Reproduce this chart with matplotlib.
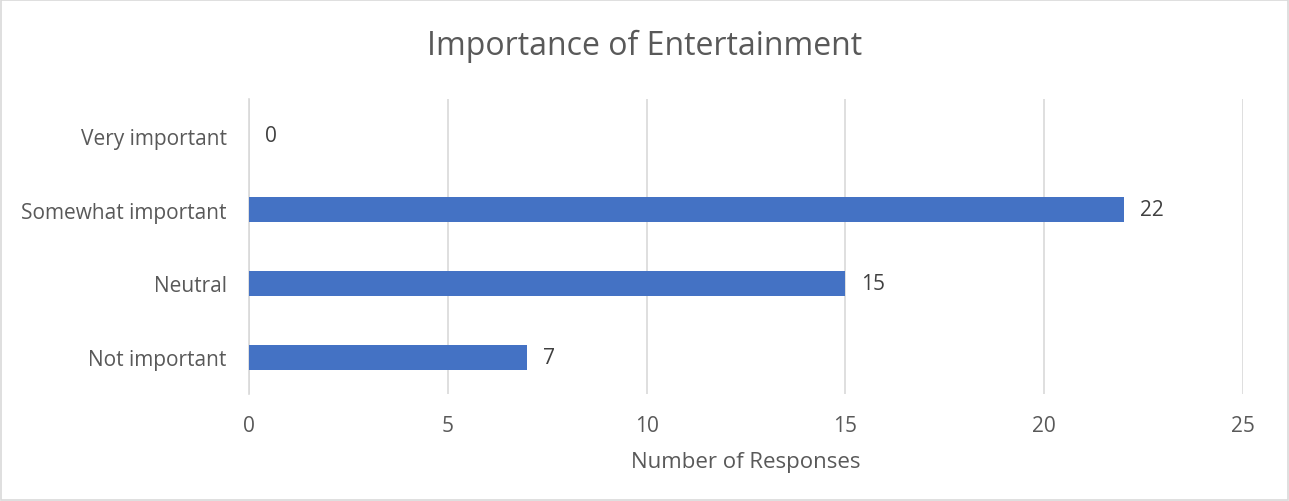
import matplotlib
matplotlib.use("Agg")
import matplotlib.pyplot as plt
from matplotlib.patches import Rectangle

# --- data -------------------------------------------------------------------
categories = ["Not important", "Neutral", "Somewhat important", "Very important"]
responses = [7, 15, 22, 0]
x_ticks = [0, 5, 10, 15, 20, 25]

BAR = "#4472C4"
TEXT = "#595959"
GRID = "#D9D9D9"

plt.rcParams["font.family"] = ["Open Sans", "DejaVu Sans"]

fig = plt.figure(figsize=(12.89, 5.02), dpi=100)
ax = fig.add_axes([0.1932, 0.2131, 0.7711, 0.5877])

y = list(range(len(categories)))
ax.barh(y, responses, height=0.34, color=BAR, zorder=3)
for yi, v in zip(y, responses):
    ax.text(v + 0.4, yi, str(v), va="center", ha="left", fontsize=15, color="#404040")

ax.set_xlim(0, 25)
ax.set_ylim(-0.5, len(categories) - 0.5)
ax.set_xticks(x_ticks)
ax.set_yticks(y)
ax.set_yticklabels(categories)
ax.xaxis.grid(True, color=GRID, linewidth=1.2, zorder=0)
ax.tick_params(axis="both", length=0, labelsize=15, colors=TEXT)
ax.tick_params(axis="x", pad=15)
ax.tick_params(axis="y", pad=16)
for side in ("top", "right", "bottom"):
    ax.spines[side].set_visible(False)
ax.spines["left"].set_color(GRID)
ax.spines["left"].set_linewidth(1.2)

ax.set_xlabel("Number of Responses", fontsize=16, color=TEXT, labelpad=11)
fig.text(0.5, 0.907, "Importance of Entertainment", ha="center", va="center",
         fontsize=23, color=TEXT)

fig.patches.append(Rectangle((0.0008, 0.001), 0.9984, 0.997, transform=fig.transFigure,
                             fill=False, edgecolor="#D9D9D9", linewidth=1.2))

fig.savefig("out.png", dpi=100)
